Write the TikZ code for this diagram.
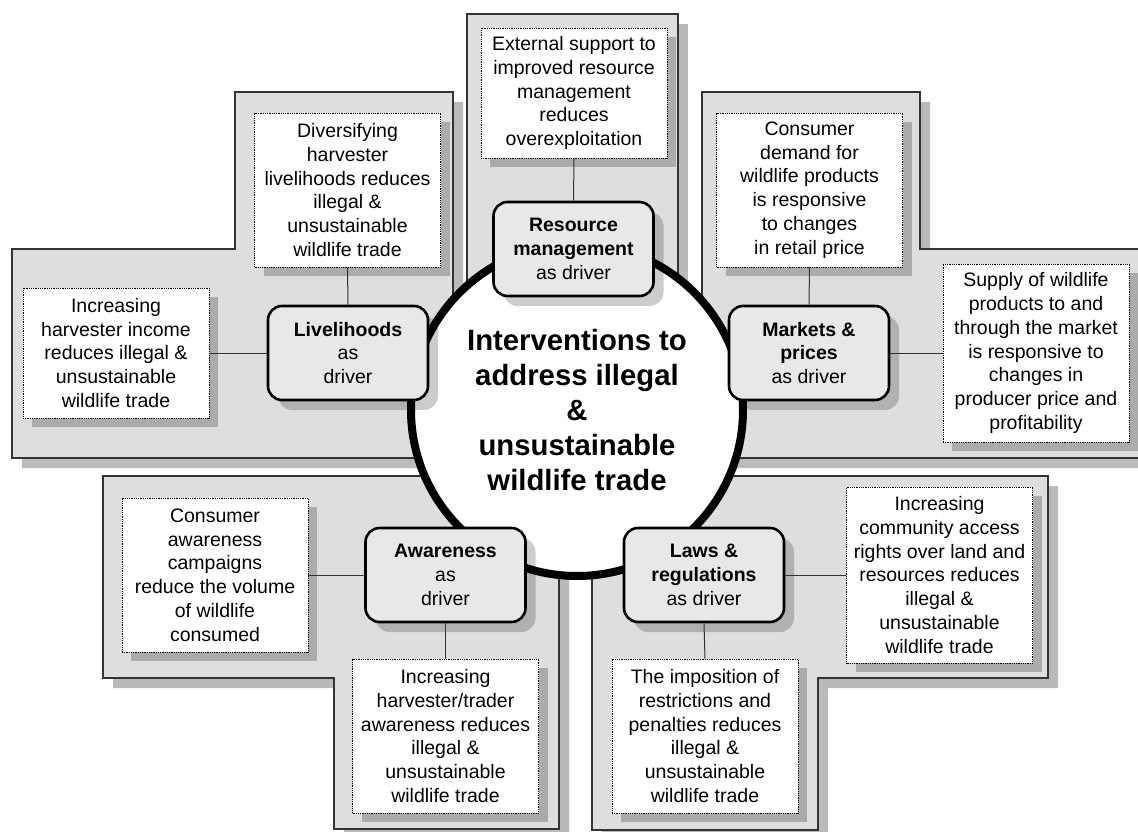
\documentclass[tikz,border=0pt]{standalone}
\usepackage{fontspec}
\setmainfont{Liberation Sans}
\usetikzlibrary{shadows}
\begin{document}
\begin{tikzpicture}[x=1pt,y=-1pt,
  panel/.style={fill=black!13, draw=black!80, line width=1.2pt,
    general shadow={fill=black!27, shadow xshift=10pt, shadow yshift=-10pt}},
  txtbox/.style={fill=white, draw=black, densely dotted, line width=0.8pt,
    align=center, inner sep=0pt, minimum width=186pt,
    font=\fontsize{19.5}{23.8}\selectfont,
    general shadow={fill=black!33, shadow xshift=9pt, shadow yshift=-9pt}},
  driverbox/.style={fill=black!9, draw=black, line width=2.6pt, rounded corners=14pt,
    minimum width=160pt, minimum height=94pt, align=center, inner sep=0pt,
    font=\fontsize{19.5}{23.8}\selectfont,
    general shadow={fill=black, opacity=0.2, shadow xshift=10pt, shadow yshift=-10pt}},
  core/.style={circle, draw=black, line width=8pt, fill=white, minimum size=332pt,
    align=center, inner sep=0pt, font=\bfseries\fontsize{29.3}{35}\selectfont},
  link/.style={draw=black!80, line width=1pt}
]
\useasboundingbox (0,0) rectangle (1138,832);
\fill[white] (0,0) rectangle (1138,832);
\clip (0,0) rectangle (1138,832);

% grey panels
\path[panel] (467,14) -- (678,14) -- (678,330) -- (467,330) -- cycle;
\path[panel] (12,249) -- (235,249) -- (235,92) -- (453,92) -- (453,458) -- (12,458) -- cycle;
\path[panel] (702,92) -- (920,92) -- (920,249) -- (1150,249) -- (1150,458) -- (702,458) -- cycle;
\path[panel] (103,476) -- (559,476) -- (559,829) -- (334,829) -- (334,678) -- (103,678) -- cycle;
\path[panel] (592,476) -- (1048,476) -- (1048,678) -- (818,678) -- (818,830) -- (592,830) -- cycle;

% text boxes
\node[txtbox, minimum height=154pt] (div) at (347.5,190) {Diversifying\\harvester\\livelihoods reduces\\illegal \&\\unsustainable\\wildlife trade};
\node[txtbox, minimum height=130pt] (inc) at (116,353) {Increasing\\harvester income\\reduces illegal \&\\unsustainable\\wildlife trade};
\node[txtbox, minimum height=130pt] (ext) at (574,93) {External support to\\improved resource\\management\\reduces\\overexploitation};
\node[txtbox, minimum height=154pt] (dem) at (809.5,190) {Consumer\\demand for\\wildlife products\\is responsive\\to changes\\in retail price};
\node[txtbox, minimum height=178pt] (sup) at (1036,353) {Supply of wildlife\\products to and\\through the market\\is responsive to\\changes in\\producer price and\\profitability};
\node[txtbox, minimum height=154pt] (caw) at (215,575) {Consumer\\awareness\\campaigns\\reduce the volume\\of wildlife\\consumed};
\node[txtbox, minimum height=154pt] (htr) at (445.5,736) {Increasing\\harvester/trader\\awareness reduces\\illegal \&\\unsustainable\\wildlife trade};
\node[txtbox, minimum height=176pt] (com) at (939.5,575) {Increasing\\community access\\rights over land and\\resources reduces\\illegal \&\\unsustainable\\wildlife trade};
\node[txtbox, minimum height=154pt] (imp) at (705,736) {The imposition of\\restrictions and\\penalties reduces\\illegal \&\\unsustainable\\wildlife trade};

% central circle
\node[core] (hub) at (577,410) {Interventions to\\address illegal\\\&\\unsustainable\\wildlife trade};

% drivers
\node[driverbox] (liv) at (348,353) {\textbf{Livelihoods}\\as\\driver};
\node[driverbox] (res) at (573.5,249) {\textbf{Resource}\\\textbf{management}\\as driver};
\node[driverbox] (mkt) at (809,353) {\textbf{Markets \&}\\\textbf{prices}\\as driver};
\node[driverbox] (awa) at (445.5,575) {\textbf{Awareness}\\as\\driver};
\node[driverbox] (law) at (704,575) {\textbf{Laws \&}\\\textbf{regulations}\\as driver};

% connectors
\draw[link] (inc.east) -- (liv.west);
\draw[link] (div.south) -- (liv.north);
\draw[link] (ext.south) -- (res.north);
\draw[link] (dem.south) -- (mkt.north);
\draw[link] (mkt.east) -- (sup.west);
\draw[link] (caw.east) -- (awa.west);
\draw[link] (awa.south) -- (htr.north);
\draw[link] (law.east) -- (com.west);
\draw[link] (law.south) -- (imp.north);
\end{tikzpicture}
\end{document}
